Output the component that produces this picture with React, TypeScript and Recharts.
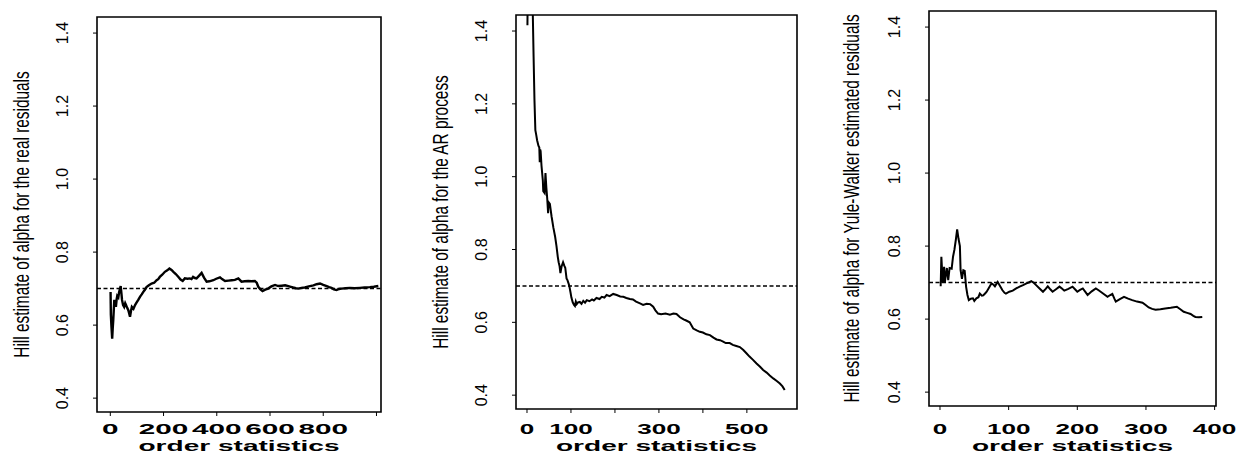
import { LineChart, Line, XAxis, YAxis, ReferenceLine, ReferenceArea } from 'recharts';

// Hill estimates (order statistic k -> alpha)
const realResK = [
  1, 2, 4, 7, 9, 11, 15, 18, 21, 24, 26, 30, 33, 39, 42, 44, 48, 52, 56, 59, 63, 68, 74, 78, 81, 87, 93, 99,
  105, 112, 118, 124, 130, 136, 145, 155, 165, 174, 180, 186, 195, 205, 214, 222, 230, 237, 246, 256, 264,
  272, 280, 290, 299, 305, 311, 318, 324, 333, 343, 352, 362, 372, 387, 398, 412, 420, 431, 444, 456, 468,
  481, 493, 505, 518, 530, 543, 550, 556, 564, 572, 582, 593, 605, 619, 631, 644, 657, 669, 678, 687, 697,
  706, 718, 731, 746, 763, 775, 788, 800, 813, 822, 831, 840, 850, 860, 869, 884, 900, 918, 938, 955, 975,
  990, 1007,
];
const realResAlpha = [
  0.691, 0.629, 0.6, 0.563, 0.59, 0.613, 0.669, 0.66, 0.65, 0.672, 0.68, 0.676, 0.69, 0.707, 0.685, 0.669,
  0.655, 0.65, 0.66, 0.655, 0.648, 0.64, 0.623, 0.64, 0.65, 0.645, 0.655, 0.662, 0.669, 0.678, 0.684, 0.691,
  0.697, 0.704, 0.709, 0.714, 0.716, 0.723, 0.726, 0.732, 0.738, 0.746, 0.75, 0.755, 0.751, 0.746, 0.74,
  0.732, 0.725, 0.721, 0.728, 0.727, 0.728, 0.726, 0.732, 0.729, 0.728, 0.735, 0.743, 0.73, 0.719, 0.72,
  0.723, 0.727, 0.731, 0.726, 0.721, 0.722, 0.723, 0.724, 0.728, 0.719, 0.72, 0.721, 0.72, 0.721, 0.716,
  0.705, 0.698, 0.693, 0.697, 0.7, 0.706, 0.71, 0.707, 0.708, 0.709, 0.707, 0.705, 0.703, 0.701, 0.7, 0.702,
  0.703, 0.706, 0.709, 0.712, 0.714, 0.71, 0.707, 0.704, 0.702, 0.698, 0.696, 0.699, 0.7, 0.701, 0.702,
  0.701, 0.702, 0.703, 0.704, 0.705, 0.707,
];

const arK = [
  1, 3, 10, 13, 15, 17, 19, 21, 23, 26, 28, 29, 30, 31, 33, 36, 37, 40, 42, 44, 46, 48, 49, 52, 56, 60, 64,
  67, 70, 72, 74, 76, 79, 82, 85, 87, 90, 92, 95, 97, 99, 101, 104, 107, 109, 111, 113, 116, 120, 124, 128,
  132, 136, 142, 148, 152, 158, 165, 170, 176, 181, 188, 196, 204, 212, 219, 226, 234, 241, 248, 257, 264,
  272, 280, 287, 292, 298, 305, 315, 325, 333, 340, 348, 356, 362, 370, 378, 386, 393, 400, 408, 416, 424,
  431, 439, 446, 452, 461, 468, 476, 484, 492, 499, 506, 514, 522, 530, 537, 545, 552, 560, 568, 575, 581,
  586,
];
const arAlpha = [
  1.416, 1.7, 1.65, 1.46, 1.33, 1.21, 1.128, 1.115, 1.1, 1.085, 1.08, 1.04, 1.075, 1.07, 1.03, 0.99, 0.96,
  0.955, 1.01, 0.97, 0.94, 0.9, 0.93, 0.925, 0.89, 0.86, 0.835, 0.81, 0.78, 0.765, 0.755, 0.735, 0.755,
  0.765, 0.755, 0.75, 0.72, 0.716, 0.705, 0.695, 0.682, 0.668, 0.655, 0.648, 0.645, 0.657, 0.65, 0.655,
  0.656, 0.651, 0.659, 0.654, 0.661, 0.658, 0.663, 0.66, 0.667, 0.664, 0.67, 0.668, 0.675, 0.672, 0.678,
  0.675, 0.671, 0.67, 0.667, 0.664, 0.663, 0.657, 0.652, 0.648, 0.651, 0.65, 0.643, 0.633, 0.624, 0.622,
  0.624, 0.621, 0.624, 0.623, 0.614, 0.608, 0.605, 0.6, 0.583, 0.578, 0.574, 0.572, 0.567, 0.565, 0.558,
  0.553, 0.551, 0.547, 0.543, 0.543, 0.538, 0.535, 0.532, 0.524, 0.515, 0.506, 0.497, 0.487, 0.478, 0.469,
  0.462, 0.454, 0.446, 0.439, 0.432, 0.424, 0.414,
];

const ywK = [
  1, 2, 4, 6, 7, 10, 12, 14, 17, 19, 21, 23, 25, 27, 29, 30, 32, 34, 36, 38, 40, 42, 45, 48, 50, 53, 56, 58,
  61, 63, 66, 68, 72, 75, 78, 80, 84, 87, 91, 94, 96, 101, 106, 111, 116, 121, 126, 130, 133, 137, 140, 145,
  150, 154, 157, 161, 164, 169, 174, 178, 181, 187, 193, 197, 200, 204, 208, 212, 215, 221, 227, 231, 234,
  239, 244, 248, 251, 254, 256, 262, 268, 274, 280, 287, 295, 300, 304, 309, 314, 321, 328, 336, 345, 350,
  355, 360, 365, 369, 372, 377, 382,
];
const ywAlpha = [
  0.69, 0.771, 0.7, 0.743, 0.7, 0.74, 0.707, 0.74, 0.738, 0.771, 0.79, 0.816, 0.846, 0.82, 0.8, 0.734, 0.71,
  0.734, 0.732, 0.689, 0.666, 0.652, 0.656, 0.657, 0.65, 0.657, 0.66, 0.67, 0.664, 0.665, 0.671, 0.675,
  0.688, 0.698, 0.694, 0.69, 0.702, 0.692, 0.679, 0.672, 0.67, 0.675, 0.678, 0.684, 0.689, 0.693, 0.698,
  0.701, 0.704, 0.699, 0.693, 0.684, 0.675, 0.683, 0.69, 0.681, 0.675, 0.682, 0.689, 0.683, 0.678, 0.683,
  0.689, 0.681, 0.675, 0.68, 0.684, 0.674, 0.666, 0.676, 0.684, 0.679, 0.675, 0.668, 0.661, 0.666, 0.669,
  0.656, 0.648, 0.655, 0.661, 0.656, 0.652, 0.648, 0.645, 0.638, 0.632, 0.628, 0.626, 0.627, 0.629, 0.631,
  0.634, 0.627, 0.62, 0.617, 0.614, 0.609, 0.606, 0.605, 0.606,
];

const yTicks = [0.4, 0.6, 0.8, 1.0, 1.2, 1.4];
const yTickLabels = ['0.4', '0.6', '0.8', '1.0', '1.2', '1.4'];
const realResTicks = [0, 200, 400, 600, 800, 1000];
const realResTickLabels = ['0', '200', '400', '600', '800', ''];
const arTicks = [0, 100, 200, 300, 400, 500];
const arTickLabels = ['0', '100', '', '300', '', '500'];
const ywTicks = [0, 100, 200, 300, 400];
const ywTickLabels = ['0', '100', '200', '300', '400'];
const trueAlpha = 0.7;
const yDomain = [0.362, 1.444];

const FONT = '"Liberation Sans", Arial, Helvetica, sans-serif';
const H = 456;

const panels = [
  {
    left: 0, width: 410, box: [97, 381, 17, 412], xDomain: [-50, 1017],
    ks: realResK, alphas: realResAlpha, ticks: realResTicks, tickLabels: realResTickLabels,
    title: 'Hill estimate of alpha for the real residuals', titleX: 29,
    digitW: 16.5, lineW: 2.4,
  },
  {
    left: 410, width: 410, box: [516, 797, 15, 409], xDomain: [-25, 614],
    ks: arK, alphas: arAlpha, ticks: arTicks, tickLabels: arTickLabels,
    title: 'Hill estimate of alpha for the AR process', titleX: 448,
    digitW: 14.5, lineW: 2,
  },
  {
    left: 820, width: 421, box: [929, 1216, 11, 406], xDomain: [-16, 402],
    ks: ywK, alphas: ywAlpha, ticks: ywTicks, tickLabels: ywTickLabels,
    title: 'Hill estimate of alpha for Yule-Walker estimated residuals', titleX: 859,
    digitW: 14.5, lineW: 2,
  },
];

function HillPanel({ p }: { p: any }) {
  const data = p.ks.map((k: number, i: number) => ({ k, alpha: p.alphas[i] }));
  const yAxisW = p.box[0] - p.left;
  const plotRight = p.box[1] - p.left;
  const midX = (p.box[0] + p.box[1]) / 2 - p.left;
  const midY = (p.box[2] + p.box[3]) / 2;

  const xTick = (t: any) => {
    const label = p.tickLabels[p.ticks.indexOf(t.payload.value)];
    if (!label) return <g />;
    return (
      <text x={t.x} y={434} textAnchor="middle" fontSize={14} fontWeight={600} fontFamily={FONT} fill="#000"
        textLength={label.length * p.digitW} lengthAdjust="spacingAndGlyphs">
        {label}
      </text>
    );
  };

  const yTick = (t: any) => {
    const label = yTickLabels[yTicks.indexOf(t.payload.value)];
    return (
      <text transform={`translate(${yAxisW - 29},${t.y}) rotate(-90)`} textAnchor="middle"
        fontSize={16} fontFamily={FONT} fill="#000">
        {label}
      </text>
    );
  };

  // axis titles: y title rotated and condensed, x title widened like the scan
  const titles = () => (
    <g>
      <text transform={`translate(${p.titleX - p.left},${midY}) rotate(-90) scale(0.7,1)`}
        textAnchor="middle" fontSize={22} fontFamily={FONT} fill="#000">
        {p.title}
      </text>
      <text x={midX} y={451} textAnchor="middle" fontSize={15} fontWeight={600} fontFamily={FONT}
        fill="#000" textLength={201} lengthAdjust="spacingAndGlyphs">
        order statistics
      </text>
    </g>
  );

  return (
    <div style={{ position: 'absolute', left: p.left, top: 0 }}>
      <LineChart width={p.width} height={H} data={data}
        margin={{ top: p.box[2], right: p.width - plotRight, bottom: 0, left: 0 }}>
        <XAxis type="number" dataKey="k" domain={p.xDomain} allowDataOverflow ticks={p.ticks} interval={0}
          axisLine={false} tickSize={4} stroke="#000" height={H - p.box[3]} tick={xTick} />
        <YAxis type="number" domain={yDomain} allowDataOverflow ticks={yTicks} interval={0}
          axisLine={false} tickSize={4} stroke="#000" width={yAxisW} tick={yTick}
          label={{ content: titles }} />
        <ReferenceArea x1={p.xDomain[0]} x2={p.xDomain[1]} y1={yDomain[0]} y2={yDomain[1]}
          fill="none" stroke="#000" strokeWidth={1.6} ifOverflow="visible" />
        <ReferenceLine y={trueAlpha} stroke="#000" strokeWidth={1.5} strokeDasharray="4 2.5" />
        <Line type="linear" dataKey="alpha" stroke="#000" strokeWidth={p.lineW} dot={false}
          isAnimationActive={false} />
      </LineChart>
    </div>
  );
}

export default function App() {
  return (
    <div style={{ position: 'absolute', left: 0, top: 0, width: 1241, height: H, background: '#fff' }}>
      {panels.map((p) => (
        <HillPanel key={p.left} p={p} />
      ))}
    </div>
  );
}
